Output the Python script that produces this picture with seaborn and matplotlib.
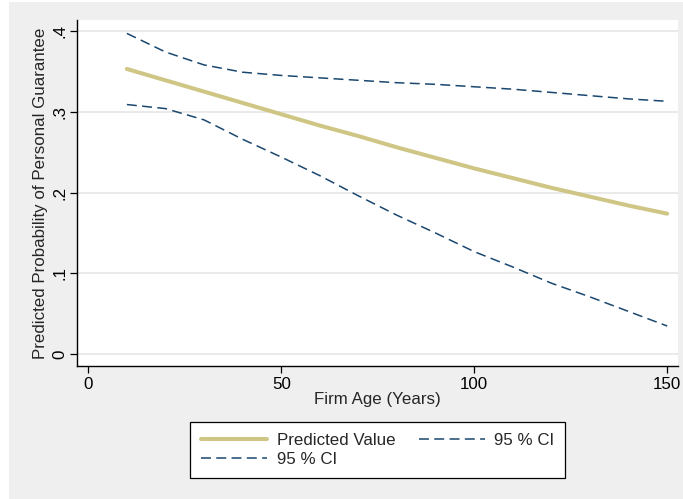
import numpy as np
import pandas as pd
import matplotlib
matplotlib.use("Agg")
import matplotlib.pyplot as plt
import seaborn as sns
from matplotlib.patches import Rectangle

# values
firm_age = [10, 20, 30, 40, 50, 60, 70, 80, 90, 100, 110, 120, 130, 140, 150]
predicted = [0.353, 0.339, 0.325, 0.311, 0.297, 0.283, 0.270, 0.256, 0.243,
             0.230, 0.218, 0.206, 0.195, 0.184, 0.174]
ci_upper = [0.397, 0.374, 0.358, 0.349, 0.345, 0.342, 0.339, 0.336, 0.334,
            0.331, 0.328, 0.324, 0.320, 0.316, 0.313]
ci_lower = [0.309, 0.304, 0.290, 0.266, 0.244, 0.221, 0.196, 0.172, 0.150,
            0.127, 0.108, 0.088, 0.071, 0.053, 0.035]
y_ticks = [0, 0.1, 0.2, 0.3, 0.4]
y_ticklabels = ["0", ".1", ".2", ".3", ".4"]
x_ticks = [0, 50, 100, 150]

df = pd.DataFrame({"age": firm_age, "pred": predicted,
                   "lo": ci_lower, "hi": ci_upper})

sns.set_style("white")
plt.rcParams["font.family"] = ["Liberation Sans", "DejaVu Sans"]

sand = "#CFC584"
navy = "#1A476F"
bg = "#EFEFEF"
fs = 12.2

fig = plt.figure(figsize=(6.83, 4.99), dpi=100)
fig.patch.set_facecolor("white")
fig.patches.append(Rectangle((9 / 683, 0), 1, 1 - 2 / 499, transform=fig.transFigure,
                             facecolor=bg, edgecolor="none", zorder=-10))

ax = fig.add_axes([77 / 683, 1 - 365.7 / 499, (678 - 77) / 683, (365.7 - 20) / 499])
ax.set_facecolor("white")

sns.lineplot(data=df, x="age", y="pred", ax=ax, color=sand, lw=2.9,
             label="Predicted Value", zorder=3)
sns.lineplot(data=df, x="age", y="lo", ax=ax, color=navy, lw=1.1,
             dashes=False, label="95 % CI", zorder=4)
sns.lineplot(data=df, x="age", y="hi", ax=ax, color=navy, lw=1.1,
             dashes=False, label="95 % CI", zorder=4)
for ln in ax.lines[1:]:
    ln.set_dashes((6.5, 3.5))

ax.set_xlim(-2.93, 152.8)
ax.set_ylim(-0.0141, 0.4136)
ax.set_yticks(y_ticks)
ax.set_yticklabels(y_ticklabels, rotation=90, va="center")
ax.set_xticks(x_ticks)
ax.grid(axis="y", color="#E6E6E6", lw=1.2)
ax.set_axisbelow(True)

for side in ["top", "right"]:
    ax.spines[side].set_visible(False)
for side in ["left", "bottom"]:
    ax.spines[side].set_color("black")
    ax.spines[side].set_linewidth(1.0)

ax.tick_params(axis="both", direction="out", length=5, width=0.9,
               color="black", labelsize=fs, labelcolor="black",
               left=True, bottom=True)
ax.tick_params(axis="y", pad=2)
ax.tick_params(axis="x", pad=3)

ax.set_xlabel("Firm Age (Years)", fontsize=fs, labelpad=0)
ax.set_ylabel("Predicted Probability of Personal Guarantee", fontsize=fs, labelpad=3)

handles, labels = ax.get_legend_handles_labels()
ax.get_legend().remove()
leg = fig.legend(handles, labels, ncol=2, loc="center",
                 bbox_to_anchor=(377.8 / 683, 1 - 450 / 499),
                 frameon=True, fancybox=False, framealpha=1,
                 edgecolor="black", facecolor="white", fontsize=fs,
                 handlelength=3.9, handletextpad=0.55, columnspacing=1.4,
                 labelspacing=0.25, borderpad=0.63, borderaxespad=0)
leg.get_frame().set_linewidth(0.9)

fig.savefig("out.png", dpi=100, facecolor=fig.get_facecolor())
